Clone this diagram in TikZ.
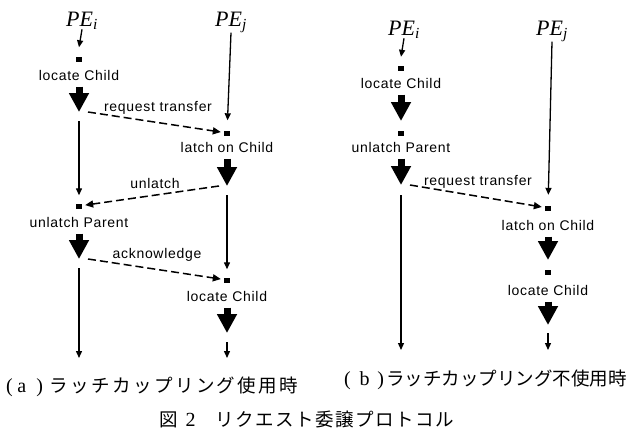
\documentclass[tikz,border=0pt]{standalone}
\usepackage{fontspec}
\setmainfont{Liberation Sans}
\newfontfamily\lbfont[LetterSpace=5]{Liberation Sans}
\newfontfamily\pefont{Liberation Serif}
\newfontfamily\jpfont{Noto Sans CJK JP}
\usetikzlibrary{arrows.meta}

% katakana/kanji spread over a given width
\makeatletter
\newcommand\jpspaced[2]{\makebox[#1][s]{\jpfont\fontsize{18.5}{20}\selectfont\@tfor\jpch:=#2\do{\jpch\hfill}\unskip}}
\makeatother

\tikzset{
	sq/.style={fill=black, minimum width=6pt, minimum height=5pt, inner sep=0pt},
	lbl/.style={font=\lbfont\fontsize{14}{16}\selectfont, text height=10pt, text depth=3pt, inner sep=1pt},
	pe/.style={font=\pefont\itshape\fontsize{22}{24}\selectfont, inner sep=0pt, anchor=base},
	flow/.style={line width=1.3pt, -{Triangle[length=7pt,width=6pt]}},
	msg/.style={flow, line width=1.5pt, dash pattern=on 8pt off 4pt, -{Triangle[length=8pt,width=7pt]}},
	fat/.style={line width=7pt, -{Triangle[length=19pt,width=19pt]}},
	captxt/.style={inner sep=0pt, anchor=west, font=\pefont\fontsize{20}{22}\selectfont}
}

\begin{document}
\begin{tikzpicture}[x=1pt, y=-1pt]
	\useasboundingbox (0,0) rectangle (629,437);

	% (a) with latch coupling
	\node[pe] (aPEi) at (82,26) {PE\textsubscript{i}};
	\node[pe] (aPEj) at (231,26) {PE\textsubscript{j}};
	\node[sq] (aS1) at (79,59) {};
	\node[lbl] (aT1) at (79,77) {locate Child};
	\coordinate (aF1) at (79,112);
	\node[sq] (aS2) at (227,133) {};
	\node[lbl] (aT2) at (227,149) {latch on Child};
	\coordinate (aF2) at (227,186);
	\node[sq] (aS3) at (79,206) {};
	\node[lbl] (aT3) at (79,224) {unlatch Parent};
	\coordinate (aF3) at (79,259);
	\node[sq] (aS4) at (227,280) {};
	\node[lbl] (aT4) at (227,298) {locate Child};
	\coordinate (aF4) at (227,333);
	\coordinate (aEi) at (79,358);
	\coordinate (aEj) at (227,358);

	\draw[flow] (aPEi.south) -- ([yshift=9pt]aS1.north);
	\draw[fat] ([yshift=-2pt]aT1.south) -- (aF1);
	\draw[msg, shorten >=3pt] ([xshift=9pt]aF1) -- (aS2);
	\node[lbl] (aM1) at (158,108) {request transfer};
	\draw[flow, shorten >=10pt] (aPEj.south) -- (aS2);
	\draw[fat] ([yshift=-2pt]aT2.south) -- (aF2);
	\draw[msg, shorten >=3pt] ([xshift=-8pt]aF2) -- (aS3);
	\node[lbl] (aM2) at (155,185) {unlatch};
	\draw[flow, shorten >=8pt] ([yshift=-9pt]aF1) -- (aS3);
	\draw[fat] ([yshift=-2pt]aT3.south) -- (aF3);
	\draw[msg, shorten >=3pt] ([xshift=9pt]aF3) -- (aS4);
	\node[lbl] (aM3) at (157,255) {acknowledge};
	\draw[flow, shorten >=8pt] ([yshift=-9pt]aF2) -- (aS4);
	\draw[fat] ([yshift=-2pt]aT4.south) -- (aF4);
	\draw[flow] ([yshift=-9pt]aF4) -- (aEj);
	\draw[flow] ([yshift=-9pt]aF3) -- (aEi);

	\node[captxt] (aCap) at (6,387) {(\hspace{4.6pt}a\hspace{10pt})\hspace{7pt}\jpspaced{248pt}{ラッチカップリング使用時}};

	% (b) without latch coupling
	\node[pe] (bPEi) at (404,35) {PE\textsubscript{i}};
	\node[pe] (bPEj) at (552,35) {PE\textsubscript{j}};
	\node[sq] (bS1) at (401,68) {};
	\node[lbl] (bT1) at (401,85) {locate Child};
	\coordinate (bF1) at (401,121);
	\node[sq] (bS2) at (401,133) {};
	\node[lbl] (bT2) at (401,149) {unlatch Parent};
	\coordinate (bF2) at (401,185);
	\node[sq] (bS3) at (548,208) {};
	\node[lbl] (bT3) at (548,227) {latch on Child};
	\coordinate (bF3) at (548,260);
	\node[sq] (bS4) at (548,272) {};
	\node[lbl] (bT4) at (548,292) {locate Child};
	\coordinate (bF4) at (548,325);
	\coordinate (bEi) at (401,350);
	\coordinate (bEj) at (548,350);

	\draw[flow] (bPEi.south) -- ([yshift=8.5pt]bS1.north);
	\draw[fat] ([yshift=-2pt]bT1.south) -- (bF1);
	\draw[fat] ([yshift=-2pt]bT2.south) -- (bF2);
	\draw[msg, shorten >=3pt] ([xshift=9pt]bF2) -- (bS3);
	\node[lbl] (bM1) at (478,182) {request transfer};
	\draw[flow, shorten >=10.5pt] (bPEj.south) -- (bS3);
	\draw[fat] ([yshift=-2pt]bT3.south) -- (bF3);
	\draw[fat] ([yshift=-2pt]bT4.south) -- (bF4);
	\draw[flow] ([yshift=-8pt]bF4) -- (bEj);
	\draw[flow] ([yshift=-10pt]bF2) -- (bEi);

	\node[captxt] (bCap) at (344,380) {(\hspace{8.8pt}b\hspace{7.8pt})\hspace{2pt}\jpspaced{238pt}{ラッチカップリング不使用時}};

	% figure caption
	\node[captxt] (fig) at (159,419) {{\jpfont\fontsize{18.5}{20}\selectfont 図}\hspace{8pt}2\hspace{20pt}\jpspaced{238pt}{リクエスト委譲プロトコル}};
\end{tikzpicture}
\end{document}
